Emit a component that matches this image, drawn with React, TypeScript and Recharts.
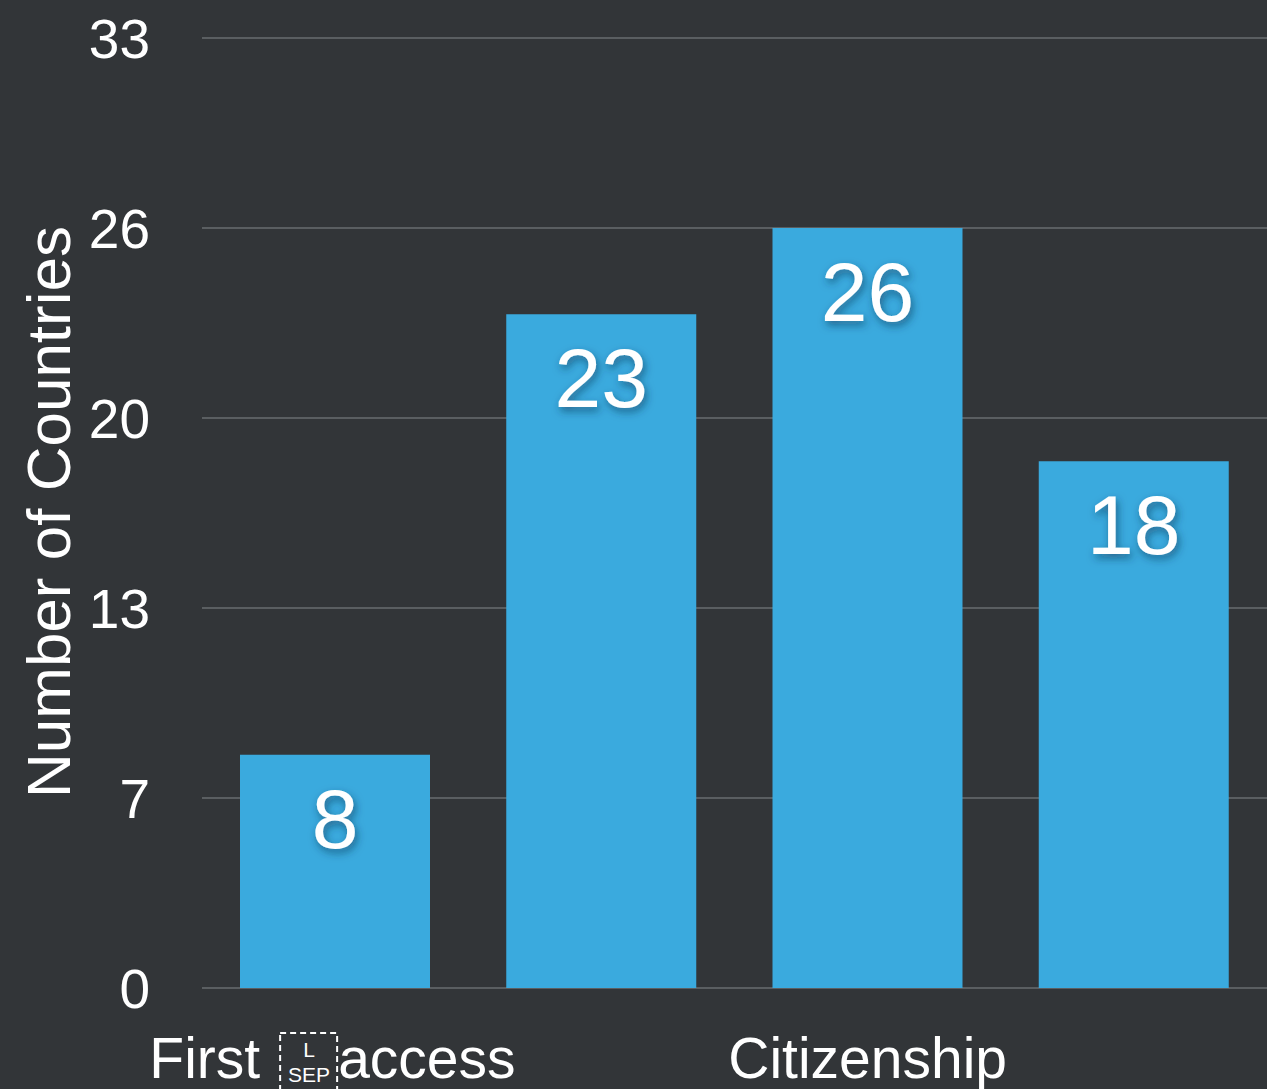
import React from "react";
import { Bar, BarChart, CartesianGrid, LabelList, XAxis, YAxis } from "recharts";

const categories = ["First\u2028access", "", "Citizenship", ""];
const countries = [8.1, 23.4, 26.4, 18.3];
const yTicks = [0, 6.6, 13.2, 19.8, 26.4, 33];

const data = categories.map((name, i) => ({ name, countries: countries[i] }));

const BG = "#323538";
const BAR = "#3aaade";
const GRID = "#696c6f";
const FONT = "'Liberation Sans', Arial, Helvetica, sans-serif";

const XTick = (props: any) => {
    const { x, payload } = props;
    const label: string = payload?.value ?? "";
    if (!label) return null;
    const baseline = 1078;
    if (label.includes("\u2028")) {
        const [first, second] = label.split("\u2028");
        return (
            <g fontFamily={FONT} fill="#ffffff">
                <text x={x - 75} y={baseline} fontSize={57} textAnchor="end">{first}</text>
                <rect x={x - 55} y={1033} width={57} height={62} fill="none" stroke="#ffffff" strokeWidth={2} strokeDasharray="6 4" />
                <text x={x - 26} y={1057} fontSize={21} textAnchor="middle">L</text>
                <text x={x - 26} y={1082} fontSize={21} textAnchor="middle">SEP</text>
                <text x={x + 3} y={baseline} fontSize={57} textAnchor="start">{second}</text>
            </g>
        );
    }
    return (
        <text x={x} y={baseline} fontSize={57} fill="#ffffff" fontFamily={FONT} textAnchor="middle">
            {label}
        </text>
    );
};

const ValueLabel = (props: any) => {
    const { x, y, width, value } = props;
    return (
        <text
            x={x + width / 2}
            y={y + 93}
            fontSize={84}
            fill="#ffffff"
            fontFamily={FONT}
            textAnchor="middle"
            filter="url(#labelShadow)"
        >
            {Math.round(value)}
        </text>
    );
};

export default function App() {
    return (
        <div style={{ position: "absolute", left: 0, top: 0, width: 1267, height: 1089, background: BG }}>
            <BarChart
                width={1267}
                height={1089}
                data={data}
                margin={{ top: 38, right: 0, bottom: 0, left: 0 }}
                barSize={190}
            >
                <defs>
                    <filter id="labelShadow" x="-20%" y="-20%" width="140%" height="140%">
                        <feDropShadow dx={2} dy={4} stdDeviation={4} floodColor="#0d3550" floodOpacity={0.6} />
                    </filter>
                </defs>
                <CartesianGrid stroke={GRID} strokeWidth={1.5} vertical={false} />
                <XAxis
                    dataKey="name"
                    height={101}
                    axisLine={false}
                    tickLine={false}
                    interval={0}
                    tick={<XTick />}
                />
                <YAxis
                    width={202}
                    domain={[0, 33]}
                    ticks={yTicks}
                    tickFormatter={(v: number) => `${Math.round(v)}`}
                    axisLine={false}
                    tickLine={false}
                    tickSize={0}
                    tickMargin={52}
                    tick={{ fill: "#ffffff", fontSize: 55, fontFamily: FONT }}
                    label={{
                        content: () => (
                            <text
                                x={70}
                                y={512}
                                transform="rotate(-90, 70, 512)"
                                fontSize={62}
                                fill="#ffffff"
                                fontFamily={FONT}
                                textAnchor="middle"
                            >
                                Number of Countries
                            </text>
                        ),
                    }}
                />
                <Bar dataKey="countries" fill={BAR} isAnimationActive={false}>
                    <LabelList dataKey="countries" content={<ValueLabel />} />
                </Bar>
            </BarChart>
        </div>
    );
}
